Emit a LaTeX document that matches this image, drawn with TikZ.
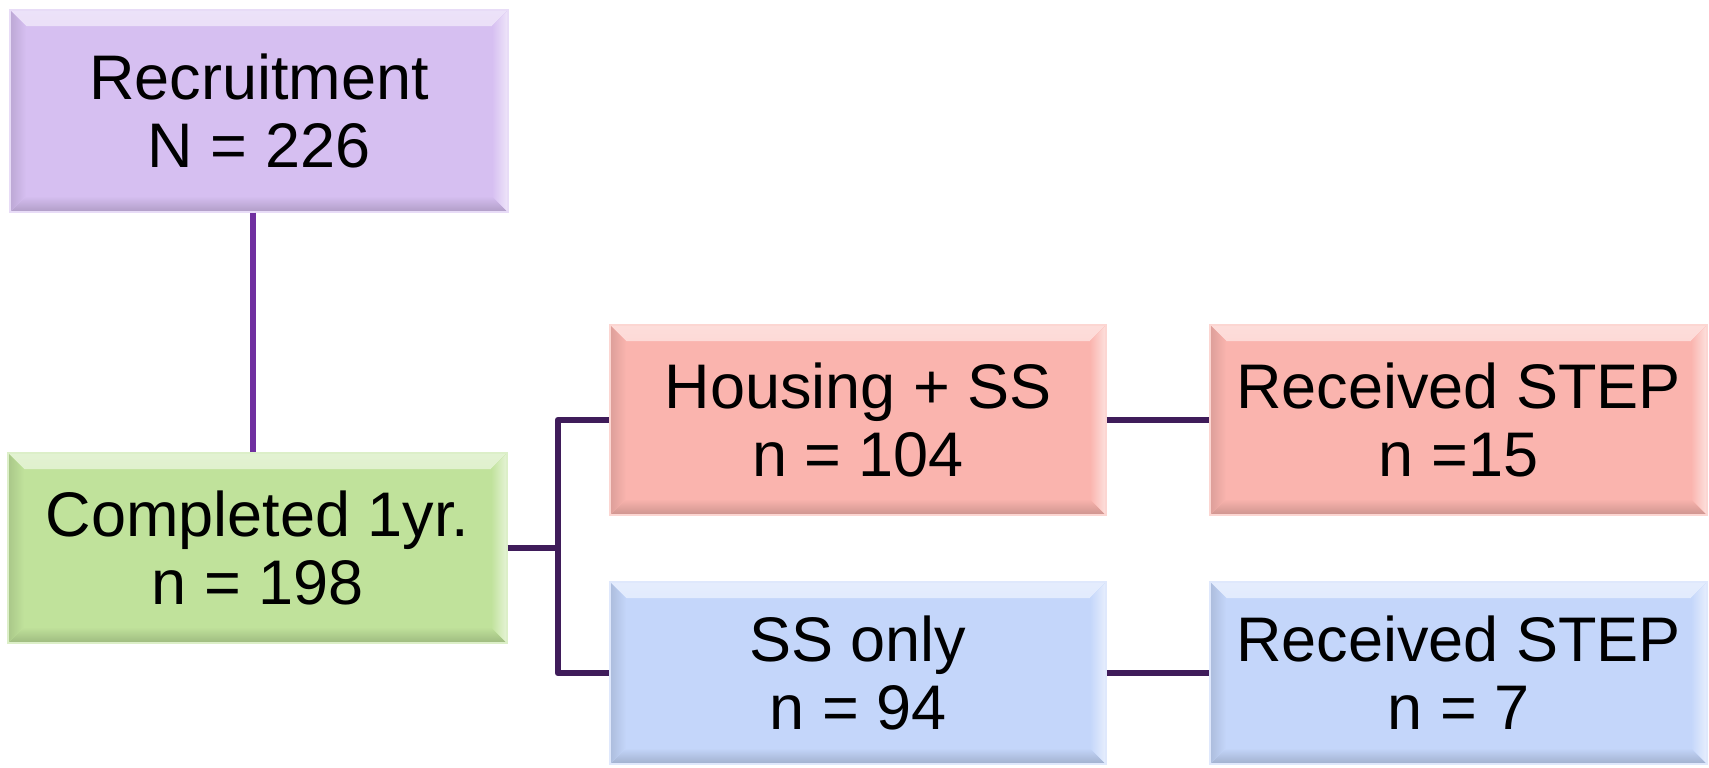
\documentclass[tikz,border=0pt]{standalone}
\usepackage{fontspec}
\setmainfont{Liberation Sans}
\begin{document}
\begin{tikzpicture}[x=0.5pt,y=-0.5pt,
  % bevelled box: base fill, light top/right strips, dark left/bottom strips
  bevelbox/.style={rectangle, inner sep=0pt, align=center,
    font=\fontsize{31.5}{34}\selectfont,
    fill=#1, draw=#1!55!white, line width=0.6pt,
    path picture={
      \fill[top color=#1!45!white, bottom color=#1]
        (path picture bounding box.north west) -- (path picture bounding box.north east)
        -- ([xshift=-8pt,yshift=-8pt]path picture bounding box.north east)
        -- ([xshift=8pt,yshift=-8pt]path picture bounding box.north west) -- cycle;
      \fill[left color=#1!88!black, right color=#1]
        (path picture bounding box.north west) -- ([xshift=8pt,yshift=-8pt]path picture bounding box.north west)
        -- ([xshift=8pt,yshift=8pt]path picture bounding box.south west)
        -- (path picture bounding box.south west) -- cycle;
      \fill[bottom color=#1!82!black, top color=#1]
        (path picture bounding box.south west) -- ([xshift=8pt,yshift=8pt]path picture bounding box.south west)
        -- ([xshift=-8pt,yshift=8pt]path picture bounding box.south east)
        -- (path picture bounding box.south east) -- cycle;
      \fill[right color=#1!40!white, left color=#1]
        (path picture bounding box.north east) -- ([xshift=-8pt,yshift=-8pt]path picture bounding box.north east)
        -- ([xshift=-8pt,yshift=8pt]path picture bounding box.south east)
        -- (path picture bounding box.south east) -- cycle;
    }},
  link/.style={line width=3pt, draw=linkdark, line join=round},
  toplink/.style={line width=3pt, draw=linkpurple}
]
\definecolor{boxpurple}{RGB}{214,191,241}
\definecolor{boxgreen}{RGB}{192,226,155}
\definecolor{boxred}{RGB}{250,180,174}
\definecolor{boxblue}{RGB}{196,214,250}
\definecolor{linkpurple}{RGB}{112,48,160}
\definecolor{linkdark}{RGB}{63,28,90}

\useasboundingbox (0,0) rectangle (1709,767);

\node[bevelbox=boxpurple, minimum width=249pt, minimum height=101pt] (rec) at (259,111)
  {Recruitment\\N = 226};
\node[bevelbox=boxgreen, minimum width=249.5pt, minimum height=95pt] (comp) at (257.5,548)
  {Completed 1yr.\\n = 198};
\node[bevelbox=boxred, minimum width=248pt, minimum height=95pt] (house) at (858,420)
  {Housing + SS\\n = 104};
\node[bevelbox=boxred, minimum width=248.5pt, minimum height=95pt] (stepa) at (1458.5,420)
  {Received STEP\\n =15};
\node[bevelbox=boxblue, minimum width=248pt, minimum height=91pt] (ss) at (858,673)
  {SS only\\n = 94};
\node[bevelbox=boxblue, minimum width=248.5pt, minimum height=91pt] (stepb) at (1458.5,673)
  {Received STEP\\n = 7};

% connectors
\draw[toplink] ([xshift=-3pt]rec.south) -- ([xshift=-3pt]rec.south |- comp.north);
\coordinate (bus) at ([xshift=25pt]comp.east);
\draw[link] (comp.east) -- (bus);
\draw[link] (bus) |- (house.west);
\draw[link] (bus) |- (ss.west);
\draw[link] (house.east) -- (stepa.west);
\draw[link] (ss.east) -- (stepb.west);
\end{tikzpicture}
\end{document}
